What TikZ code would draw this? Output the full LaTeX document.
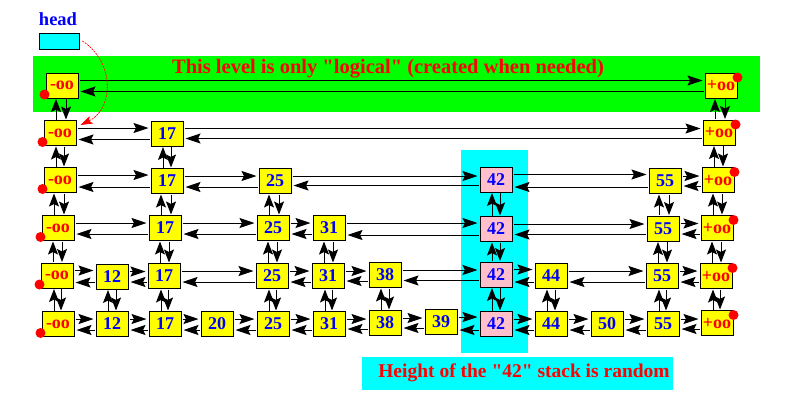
\documentclass[tikz,border=0pt]{standalone}
\usepackage{fontspec}
\setmainfont{Liberation Serif}[Ligatures=TeXOff]
\usetikzlibrary{arrows.meta}
\definecolor{bandgreen}{RGB}{0,255,0}
\definecolor{cyanc}{RGB}{0,255,255}
\definecolor{boxyellow}{RGB}{255,255,0}
\definecolor{pinkc}{RGB}{255,192,203}
\definecolor{redc}{RGB}{255,0,0}
\definecolor{bluec}{RGB}{0,0,255}
\begin{document}
\begin{tikzpicture}[x=1pt,y=-1pt,
  box/.style={draw=black,line width=1pt,fill=boxyellow,minimum width=32pt,minimum height=25pt,inner sep=0pt,font=\fontsize{18}{18}\selectfont\bfseries,text=bluec},
  infbox/.style={box,text=redc},
  pbox/.style={box,fill=pinkc},
  lnk/.style={line width=1pt,-{Stealth[length=15pt,width=10pt,inset=2.5pt]},shorten >=2pt,shorten <=1pt},
  vlnk/.style={line width=1pt,-{Stealth[length=13pt,width=10pt,inset=2.5pt]},shorten >=0.5pt,shorten <=0.5pt},
  reddot/.style={circle,fill=redc,inner sep=0pt,minimum size=10pt},
  lbl/.style={inner sep=0pt,font=\bfseries}
]
\useasboundingbox (0,0) rectangle (792,402);
% backgrounds
\fill[bandgreen] (33,56) rectangle (760,112);
\fill[cyanc] (461,150) rectangle (528,353);
\node[fill=cyanc,minimum width=311pt,minimum height=33pt,inner sep=0pt] (note) at (517.5,373.5) {};
\node[lbl,text=redc,font=\fontsize{19.5}{19.5}\selectfont\bfseries] (notetext) at (524,373) {Height of the "42" stack is random};
\node[lbl,text=redc,font=\fontsize{20.5}{20.5}\selectfont\bfseries] (title) at (388,69) {This level is only "logical" (created when needed)};
\node[lbl,text=bluec,font=\fontsize{18.5}{18.5}\selectfont\bfseries] (headlbl) at (58,19) {head};
\node[draw=black,line width=0.8pt,fill=cyanc,minimum width=40pt,minimum height=16pt,inner sep=0pt] (headbox) at (59,41) {};
% row 0
\node[infbox] (r0c0) at (62,85.5) {-oo};
\node[infbox] (r0c12) at (721,85.5) {+oo};
% row 1
\node[infbox] (r1c0) at (60,133) {-oo};
\node[box] (r1c2) at (167,133.5) {17};
\node[infbox] (r1c12) at (719,132.5) {+oo};
% row 2
\node[infbox] (r2c0) at (60,180) {-oo};
\node[box] (r2c2) at (167,181) {17};
\node[box] (r2c4) at (275,181) {25};
\node[pbox] (r2c8) at (496,179.5) {42};
\node[box] (r2c11) at (665,181) {55};
\node[infbox] (r2c12) at (718,180) {+oo};
% row 3
\node[infbox] (r3c0) at (58,228) {-oo};
\node[box] (r3c2) at (165,228) {17};
\node[box] (r3c4) at (273,228) {25};
\node[box] (r3c5) at (329,228) {31};
\node[pbox] (r3c8) at (496,229) {42};
\node[box] (r3c11) at (663,228.5) {55};
\node[infbox] (r3c12) at (717,228) {+oo};
% row 4
\node[infbox] (r4c0) at (57,275.5) {-oo};
\node[box] (r4c1) at (112,276.5) {12};
\node[box] (r4c2) at (164,276) {17};
\node[box] (r4c4) at (272,276) {25};
\node[box] (r4c5) at (328,276) {31};
\node[box] (r4c6) at (385,275) {38};
\node[pbox] (r4c8) at (496,274.5) {42};
\node[box] (r4c9) at (551,276) {44};
\node[box] (r4c11) at (662,276) {55};
\node[infbox] (r4c12) at (716,276) {+oo};
% row 5
\node[infbox] (r5c0) at (58,324) {-oo};
\node[box] (r5c1) at (112,324) {12};
\node[box] (r5c2) at (165,324) {17};
\node[box] (r5c3) at (217,324) {20};
\node[box] (r5c4) at (273,324) {25};
\node[box] (r5c5) at (329,324) {31};
\node[box] (r5c6) at (385,323) {38};
\node[box] (r5c7) at (441,322) {39};
\node[pbox] (r5c8) at (496,324) {42};
\node[box] (r5c9) at (551,324) {44};
\node[box] (r5c10) at (607,324) {50};
\node[box] (r5c11) at (663,324) {55};
\node[infbox] (r5c12) at (717,323) {+oo};
% red dots
\foreach \r in {0,...,5} {
  \node[reddot] (dm\r) at ([shift={(-1pt,4pt)}]r\r c0.south west) {};
  \node[reddot] (dp\r) at ([shift={(0pt,-5pt)}]r\r c12.north east) {};
}
% horizontal links
\foreach \a/\b in {r0c0/r0c12,
  r1c0/r1c2, r1c2/r1c12,
  r2c0/r2c2, r2c2/r2c4, r2c4/r2c8, r2c8/r2c11, r2c11/r2c12,
  r3c0/r3c2, r3c2/r3c4, r3c4/r3c5, r3c5/r3c8, r3c8/r3c11, r3c11/r3c12,
  r4c0/r4c1, r4c1/r4c2, r4c2/r4c4, r4c4/r4c5, r4c5/r4c6, r4c6/r4c8, r4c8/r4c9, r4c9/r4c11, r4c11/r4c12,
  r5c0/r5c1, r5c1/r5c2, r5c2/r5c3, r5c3/r5c4, r5c4/r5c5, r5c5/r5c6, r5c6/r5c7, r5c7/r5c8, r5c8/r5c9, r5c9/r5c10, r5c10/r5c11, r5c11/r5c12} {
  \draw[lnk] ([yshift=5pt]\a.east) -- ([yshift=5pt]\a.east -| \b.west);
  \draw[lnk] ([yshift=-6pt]\b.west) -- ([yshift=-6pt]\b.west -| \a.east);
}
% vertical links
\foreach \a/\b in {r0c0/r1c0, r1c0/r2c0, r2c0/r3c0, r3c0/r4c0, r4c0/r5c0,
  r0c12/r1c12, r1c12/r2c12, r2c12/r3c12, r3c12/r4c12, r4c12/r5c12,
  r1c2/r2c2, r2c2/r3c2, r3c2/r4c2, r4c2/r5c2,
  r2c4/r3c4, r3c4/r4c4, r4c4/r5c4,
  r2c8/r3c8, r3c8/r4c8, r4c8/r5c8,
  r2c11/r3c11, r3c11/r4c11, r4c11/r5c11,
  r3c5/r4c5, r4c5/r5c5,
  r4c1/r5c1, r4c6/r5c6, r4c9/r5c9} {
  \draw[vlnk] ([xshift=-4pt]\b.north) -- ([xshift=-4pt]\b.north |- \a.south);
  \draw[vlnk] ([xshift=4pt]\a.south) -- ([xshift=4pt]\a.south |- \b.north);
}
% head pointer
\draw[redc,line width=0.7pt,dash pattern=on 2pt off 1pt,-{Stealth[length=12pt,width=8pt,inset=2.5pt]}]
  ([xshift=3pt]headbox.east) .. controls (115,62) and (114,109) .. ([shift={(4pt,-5pt)}]r1c0.north east);
\end{tikzpicture}
\end{document}
